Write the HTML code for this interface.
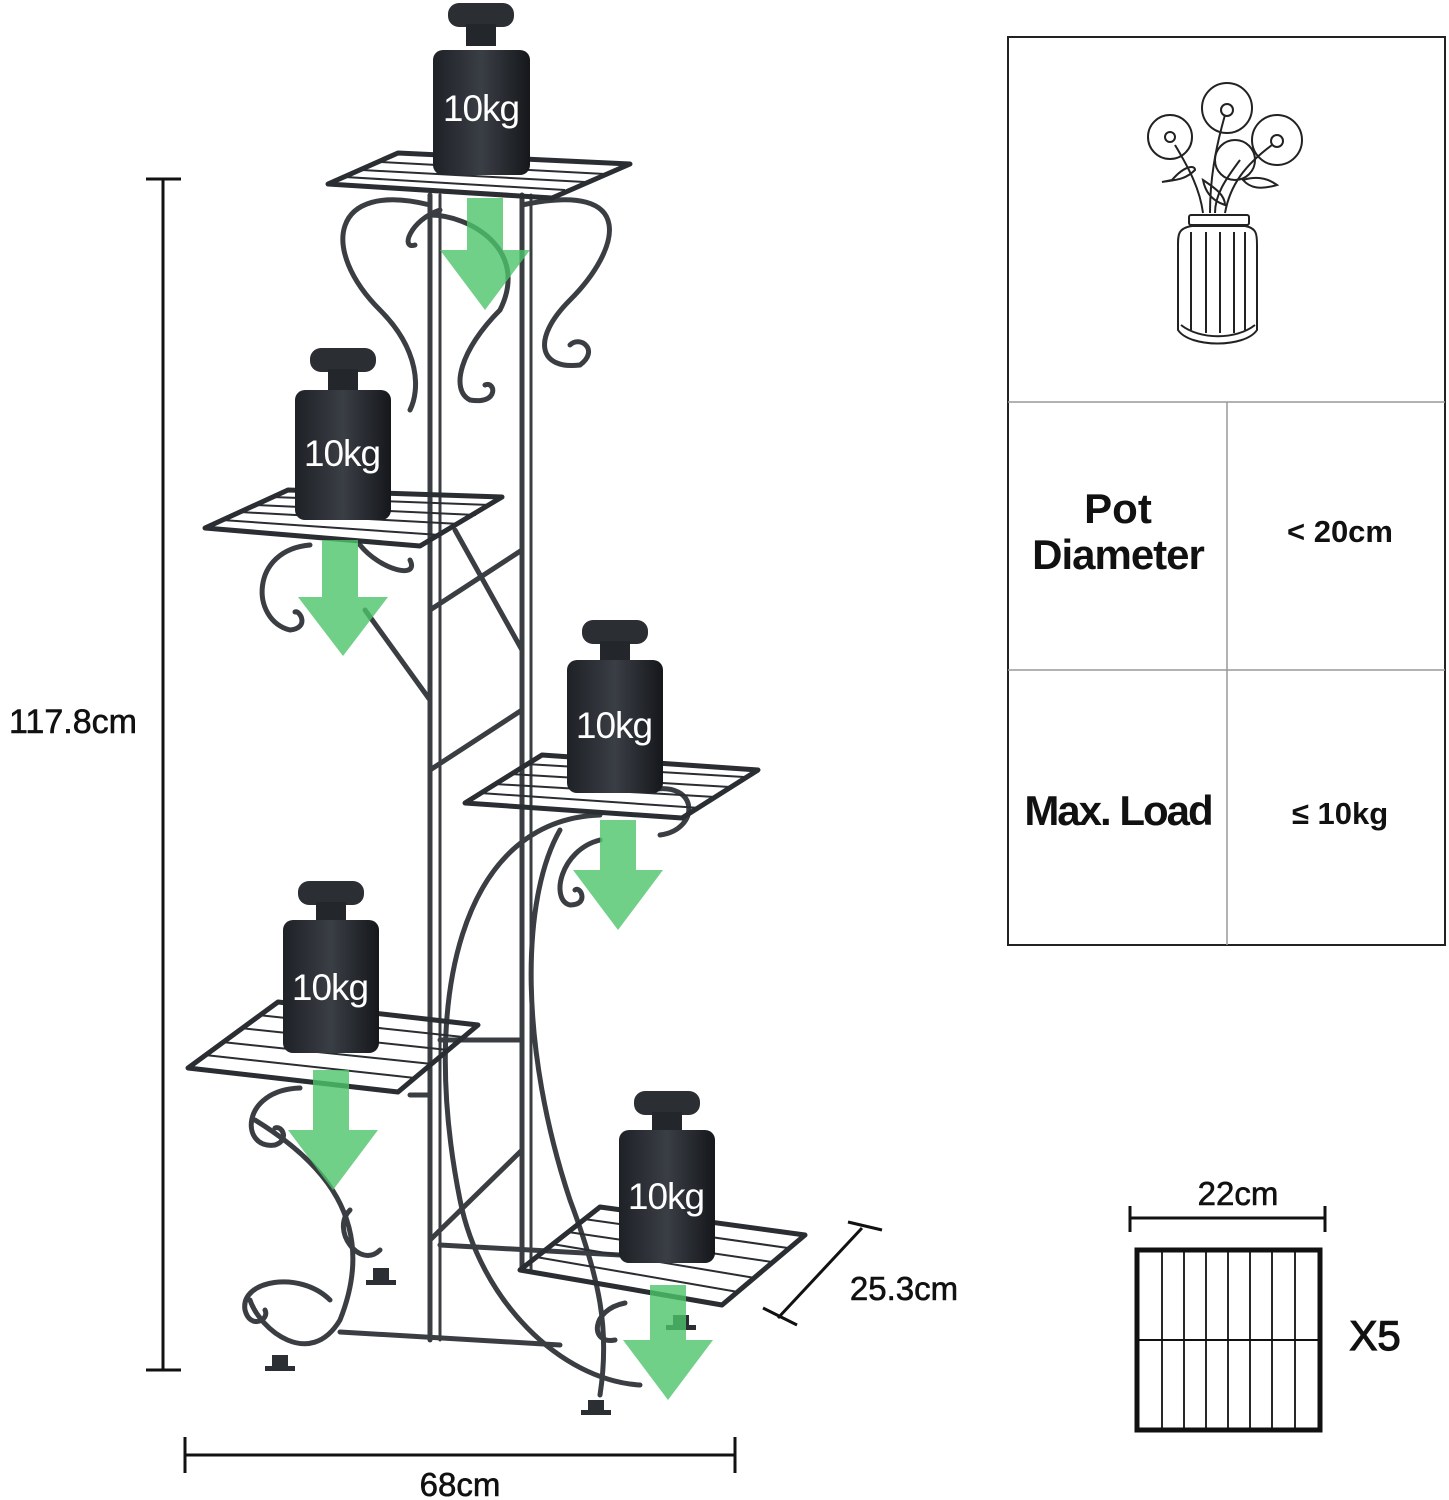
<!DOCTYPE html>
<html><head><meta charset="utf-8"><style>
html,body{margin:0;padding:0;background:#fff;}
svg{display:block;}
text{font-family:"Liberation Sans",sans-serif;}
</style></head><body>
<svg width="1449" height="1500" viewBox="0 0 1449 1500" xmlns="http://www.w3.org/2000/svg">
<defs>
<linearGradient id="wt" x1="0" x2="1" y1="0" y2="0">
<stop offset="0" stop-color="#1e2126"/><stop offset="0.5" stop-color="#3a3e45"/><stop offset="1" stop-color="#15171b"/>
</linearGradient>
</defs>

<!-- dimension lines -->
<g stroke="#111" stroke-width="3" fill="none">
<line x1="163" y1="178" x2="163" y2="1370"/>
<line x1="146" y1="179" x2="181" y2="179"/>
<line x1="146" y1="1370" x2="181" y2="1370"/>
<line x1="185" y1="1455" x2="735" y2="1455"/>
<line x1="185" y1="1437" x2="185" y2="1473"/>
<line x1="735" y1="1437" x2="735" y2="1473"/>
<line x1="778" y1="1318" x2="862" y2="1228"/>
<line x1="763" y1="1308" x2="797" y2="1325"/>
<line x1="848" y1="1222" x2="882" y2="1230"/>
</g>
<g fill="#111" stroke="#111" stroke-width="0.6">
<text x="73" y="733" font-size="34" text-anchor="middle">117.8cm</text>
<text x="460" y="1496" font-size="33" text-anchor="middle">68cm</text>
<text x="904" y="1300" font-size="33" text-anchor="middle">25.3cm</text>
</g>

<!-- stand structure -->
<g stroke="#3a3d42" stroke-width="5" fill="none" stroke-linecap="round">
<line x1="430" y1="195" x2="430" y2="1340"/>
<line x1="440" y1="195" x2="440" y2="1340" stroke-width="3"/>
<line x1="522" y1="195" x2="522" y2="1270"/>
<line x1="531" y1="195" x2="531" y2="1270" stroke-width="3"/>
<line x1="430" y1="610" x2="522" y2="550"/>
<line x1="430" y1="770" x2="522" y2="710"/>
<line x1="430" y1="1240" x2="522" y2="1150"/>
<line x1="340" y1="1332" x2="560" y2="1345"/>
<line x1="440" y1="1245" x2="620" y2="1255"/>
<line x1="455" y1="530" x2="522" y2="650"/>
<line x1="365" y1="610" x2="430" y2="700"/>
<line x1="410" y1="1095" x2="430" y2="1095"/>
<line x1="440" y1="1040" x2="522" y2="1040"/>
<path d="M600 815 C 460 820 420 1000 460 1200 C 480 1300 560 1380 640 1385"/>
<path d="M560 830 C 520 900 520 1050 570 1200 C 600 1280 610 1330 600 1395"/>
<path d="M255 1120 C 320 1160 380 1220 340 1320 C 310 1370 260 1330 250 1300"/>
<path d="M350 1210 C 330 1230 360 1270 380 1250"/>
<path d="M430 205 C 330 180 320 250 380 310 C 420 350 420 390 410 410"/>
<path d="M522 205 C 640 180 620 250 570 300 C 530 340 540 370 580 365 C 600 350 580 335 570 345"/>
<path d="M430 215 C 470 215 530 250 500 310 C 460 350 450 390 470 400 C 500 405 495 380 485 385"/>
<path d="M440 210 C 410 220 400 250 415 245"/>
<path d="M310 545 C 250 550 250 620 290 630 C 310 628 300 610 295 612"/>
<path d="M360 545 C 380 570 420 580 410 560"/>
<path d="M600 840 C 560 850 550 900 570 905 C 590 905 580 885 575 890"/>
<path d="M650 790 C 700 780 700 830 660 835"/>
<path d="M300 1088 C 240 1090 240 1150 275 1145 C 290 1140 282 1125 275 1128"/>
<path d="M625 1303 C 590 1310 590 1345 615 1340"/>
<path d="M330 1300 C 300 1270 240 1280 245 1310 C 250 1330 270 1320 265 1310"/>
</g>
<g fill="#2b2e33">
<rect x="272" y="1355" width="16" height="14"/><rect x="265" y="1366" width="30" height="5"/>
<rect x="373" y="1268" width="16" height="14"/><rect x="366" y="1280" width="30" height="5"/>
<rect x="588" y="1400" width="16" height="12"/><rect x="581" y="1410" width="30" height="5"/>
<rect x="673" y="1315" width="16" height="12"/><rect x="666" y="1325" width="30" height="5"/>
</g>

<!-- shelves -->
<g stroke="#2a2d31" stroke-width="5" fill="none" stroke-linejoin="round">
<polygon points="328,184 398,153 630,164 552,198"/>
<polygon points="205,528 288,490 502,497 420,546"/>
<polygon points="465,803 542,755 758,770 682,818"/>
<polygon points="188,1068 278,1002 478,1025 398,1092"/>
<polygon points="520,1270 600,1207 805,1235 722,1305"/>
</g>
<g stroke="#2a2d31" stroke-width="2" fill="none">
<path d="M345 177 L 565 190 M362 170 L 585 182 M380 162 L 605 174"/>
<path d="M222 520 L 440 535 M240 512 L 460 524 M256 505 L 476 515 M272 497 L 490 505"/>
<path d="M480 793 L 700 808 M495 784 L 715 797 M510 774 L 730 787 M526 764 L 744 777"/>
<path d="M205 1055 L 415 1078 M222 1042 L 432 1064 M240 1028 L 448 1050 M258 1015 L 463 1037"/>
<path d="M536 1257 L 738 1292 M552 1244 L 755 1278 M568 1232 L 772 1262 M584 1219 L 788 1248"/>
</g>

<!-- weights -->
<g>
<g transform="translate(433,0)">
<rect x="15" y="3" width="66" height="24" rx="11" fill="#2b2e33"/><rect x="33" y="24" width="30" height="22" fill="#23262a"/>
<rect x="0" y="50" width="97" height="125" rx="10" fill="url(#wt)"/>
<text x="48" y="121" font-size="37" fill="#fff" text-anchor="middle" letter-spacing="-1">10kg</text></g>
<g transform="translate(295,345)">
<rect x="15" y="3" width="66" height="24" rx="11" fill="#2b2e33"/><rect x="33" y="24" width="30" height="22" fill="#23262a"/>
<rect x="0" y="45" width="96" height="130" rx="10" fill="url(#wt)"/>
<text x="47" y="121" font-size="37" fill="#fff" text-anchor="middle" letter-spacing="-1">10kg</text></g>
<g transform="translate(567,617)">
<rect x="15" y="3" width="66" height="24" rx="11" fill="#2b2e33"/><rect x="33" y="24" width="30" height="22" fill="#23262a"/>
<rect x="0" y="43" width="96" height="133" rx="10" fill="url(#wt)"/>
<text x="47" y="121" font-size="37" fill="#fff" text-anchor="middle" letter-spacing="-1">10kg</text></g>
<g transform="translate(283,878)">
<rect x="15" y="3" width="66" height="24" rx="11" fill="#2b2e33"/><rect x="33" y="24" width="30" height="22" fill="#23262a"/>
<rect x="0" y="42" width="96" height="133" rx="10" fill="url(#wt)"/>
<text x="47" y="122" font-size="37" fill="#fff" text-anchor="middle" letter-spacing="-1">10kg</text></g>
<g transform="translate(619,1088)">
<rect x="15" y="3" width="66" height="24" rx="11" fill="#2b2e33"/><rect x="33" y="24" width="30" height="22" fill="#23262a"/>
<rect x="0" y="42" width="96" height="133" rx="10" fill="url(#wt)"/>
<text x="47" y="121" font-size="37" fill="#fff" text-anchor="middle" letter-spacing="-1">10kg</text></g>
</g>

<!-- green arrows -->
<g fill="#4cc46a" fill-opacity="0.8">
<polygon points="467,198 503,198 503,250 530,250 485,310 440,250 467,250"/>
<polygon points="322,540 358,540 358,597 388,597 343,656 298,597 322,597"/>
<polygon points="600,820 636,820 636,870 663,870 618,930 573,870 600,870"/>
<polygon points="313,1070 349,1070 349,1130 378,1130 333,1190 288,1130 313,1130"/>
<polygon points="650,1285 686,1285 686,1340 713,1340 668,1400 623,1340 650,1340"/>
</g>

<!-- table -->
<g stroke="#222" fill="none">
<rect x="1008" y="37" width="437" height="908" stroke-width="2"/>
<line x1="1008" y1="402" x2="1445" y2="402" stroke="#999" stroke-width="1.5"/>
<line x1="1008" y1="670" x2="1445" y2="670" stroke="#999" stroke-width="1.5"/>
<line x1="1227" y1="402" x2="1227" y2="945" stroke="#999" stroke-width="1.5"/>
</g>
<text x="1118" y="523" font-size="42" font-weight="bold" text-anchor="middle" fill="#111">Pot</text>
<text x="1118" y="569" font-size="42" font-weight="bold" text-anchor="middle" fill="#111" letter-spacing="-1">Diameter</text>
<text x="1340" y="542" font-size="31" font-weight="bold" text-anchor="middle" fill="#111">&lt; 20cm</text>
<text x="1118" y="825" font-size="42" font-weight="bold" text-anchor="middle" fill="#111" letter-spacing="-2">Max. Load</text>
<text x="1340" y="824" font-size="31" font-weight="bold" text-anchor="middle" fill="#111">≤ 10kg</text>

<!-- vase icon -->
<g stroke="#222" stroke-width="2" fill="none">
<rect x="1189" y="215" width="60" height="10" rx="2"/>
<path d="M1192 226 C1178 228 1178 235 1178 245 L1178 330 C1190 348 1245 348 1257 330 L1257 245 C1257 235 1257 228 1245 226 Z"/>
<path d="M1181 325 C1200 340 1236 340 1255 325"/>
<line x1="1191" y1="232" x2="1191" y2="330"/><line x1="1206" y1="232" x2="1206" y2="333"/><line x1="1220" y1="232" x2="1220" y2="333"/><line x1="1234" y1="232" x2="1234" y2="333"/><line x1="1245" y1="232" x2="1245" y2="330"/>
<path d="M1203 213 C1200 190 1190 170 1175 145"/><path d="M1210 213 C1210 180 1215 150 1225 115"/><path d="M1225 213 C1230 185 1245 165 1272 145"/><path d="M1215 213 C1215 195 1225 180 1240 160"/>
<circle cx="1170" cy="137" r="22"/><circle cx="1170" cy="137" r="5"/>
<circle cx="1227" cy="108" r="25"/><circle cx="1227" cy="110" r="6"/>
<circle cx="1277" cy="140" r="25"/><circle cx="1277" cy="141" r="6"/>
<circle cx="1235" cy="160" r="20"/>
<path d="M1172 180 C1185 165 1195 165 1195 170 C1185 180 1175 180 1162 182 Z"/>
<path d="M1203 180 C1215 188 1225 195 1225 205 C1210 200 1205 190 1203 180 Z"/>
<path d="M1243 180 C1260 175 1270 180 1277 185 C1260 190 1250 188 1243 180 Z"/>
</g>

<!-- shelf icon -->
<g stroke="#111" fill="none">
<line x1="1130" y1="1218" x2="1325" y2="1218" stroke-width="3"/>
<line x1="1130" y1="1206" x2="1130" y2="1232" stroke-width="3"/>
<line x1="1325" y1="1206" x2="1325" y2="1232" stroke-width="3"/>
<rect x="1137" y="1250" width="183" height="180" stroke-width="5"/>
<line x1="1139" y1="1340" x2="1318" y2="1340" stroke-width="2"/>
<g stroke-width="1.8">
<line x1="1162" y1="1252" x2="1162" y2="1428"/><line x1="1184" y1="1252" x2="1184" y2="1428"/><line x1="1206" y1="1252" x2="1206" y2="1428"/><line x1="1228" y1="1252" x2="1228" y2="1428"/><line x1="1250" y1="1252" x2="1250" y2="1428"/><line x1="1272" y1="1252" x2="1272" y2="1428"/><line x1="1295" y1="1252" x2="1295" y2="1428"/>
</g>
</g>
<g fill="#111" stroke="#111" stroke-width="0.6">
<text x="1238" y="1205" font-size="33" text-anchor="middle">22cm</text>
<text x="1375" y="1350" font-size="42" text-anchor="middle" stroke-width="1.2">X5</text>
</g>
</svg>
</body></html>
